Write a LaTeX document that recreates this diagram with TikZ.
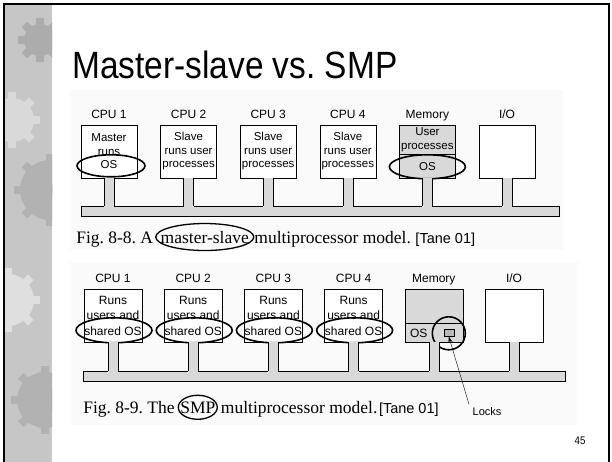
\documentclass[tikz,border=0pt]{standalone}
\usepackage{fontspec}
\setmainfont{Liberation Serif}
\setsansfont{Liberation Sans}
\newfontfamily\titlefont[FakeStretch=0.88]{Liberation Sans}
\usetikzlibrary{positioning,arrows.meta}
\frenchspacing

\tikzstyle{cpu} = [rectangle, draw, fill=white, minimum width=56pt, minimum height=53pt, inner sep=0pt, align=center, font=\sffamily\fontsize{11.5}{13.5}\selectfont]
\tikzstyle{mem} = [cpu, fill=gray!30]
\tikzstyle{tag} = [font=\sffamily\fontsize{12}{14}\selectfont, inner sep=2pt, text height=9pt, text depth=2.5pt]
\tikzstyle{ring} = [draw, line width=1.6pt]
\tikzstyle{stub} = [fill=gray!30]
\tikzstyle{figcap} = [font=\fontsize{17.5}{20}\selectfont, inner sep=0pt]
\tikzstyle{tane} = [font=\sffamily\fontsize{14.5}{17}\selectfont, inner sep=0pt]

\begin{document}
\begin{tikzpicture}[x=1pt, y=-1pt, line width=0.6pt]
	\useasboundingbox (0,0) rectangle (612,462);
	% slide frame and gear band
	\fill[white] (0,0) rectangle (612,462);
	\begin{scope}
		\clip (5,5) rectangle (52,462);
		\fill[gray!45] (5,5) rectangle (52,462);
		\foreach \cx/\cy/\r/\c in {40/40/16/gray!65, 12/120/22/gray!30, 50/190/30/gray!60, 8/300/26/gray!25, 45/400/28/gray!60} {
			\fill[\c] (\cx,\cy) circle (\r);
			\foreach \a in {0,45,...,135}
				\fill[\c, rotate around={\a:(\cx,\cy)}] (\cx-4,\cy-\r-6) rectangle (\cx+4,\cy+\r+6);
		}
	\end{scope}
	\draw[line width=2pt] (4,462) -- (4,4) -- (609,4) -- (609,462);
	\node[font=\titlefont\fontsize{38}{40}\selectfont, anchor=base west, inner sep=0pt] (title) at (72,79) {Master-slave vs. SMP};

	% master-slave model
	\fill[gray!4] (70,90) rectangle (563,250);
	\node[cpu] (m1) at (109,151.5) {Master\\runs\\OS};
	\node[cpu, right=23pt of m1] (s2) {Slave\\runs user\\processes};
	\node[cpu, right=23pt of s2] (s3) {Slave\\runs user\\processes};
	\node[cpu, right=23pt of s3] (s4) {Slave\\runs user\\processes};
	\node[mem, right=23pt of s4] (mm) {};
	\node[cpu, right=23pt of mm] (io) {};
	\node[tag, above=1pt of m1] (lm1) {CPU 1};
	\node[tag, above=1pt of s2] (ls2) {CPU 2};
	\node[tag, above=1pt of s3] (ls3) {CPU 3};
	\node[tag, above=1pt of s4] (ls4) {CPU 4};
	\node[tag, above=1pt of mm] (lmm) {Memory};
	\node[tag, above=1pt of io] (lio) {I/O};
	\draw ([yshift=-30pt]mm.north west) -- ([yshift=-30pt]mm.north east);
	\node[align=center, font=\sffamily\fontsize{11.5}{13.5}\selectfont] (mu) at ([yshift=-15pt]mm.north) {User\\processes};
	\node[font=\sffamily\fontsize{11.5}{13.5}\selectfont] (mo) at ([yshift=11.5pt]mm.south) {OS};
	\draw[ring] (mo) ellipse [x radius=38pt, y radius=12pt];
	\draw[ring] ([xshift=2pt,yshift=12.5pt]m1.south) ellipse [x radius=34pt, y radius=11pt];
	\filldraw[stub, draw=black] (81,206) rectangle (559,216);
	\foreach \n in {m1,s2,s3,s4,mm,io} {
		\fill[stub] ([xshift=-5pt]\n.south) rectangle ([xshift=5pt,yshift=-28.6pt]\n.south);
		\draw ([xshift=-5pt]\n.south) -- ++(0,28) ([xshift=5pt]\n.south) -- ++(0,28);
	}
	\node[figcap, anchor=base west] (f8) at (76,243) {Fig. 8-8. A};
	\node[figcap, base right=7pt of f8] (ms) {master-slave};
	\draw[ring, line width=1.3pt] (ms) ellipse [x radius=49pt, y radius=13.5pt];
	\node[figcap, base right=5pt of ms] (mp8) {multiprocessor model.};
	\node[tane, base right=4pt of mp8] (t8) {[Tane 01]};

	% SMP model
	\fill[gray!4] (70,262) rectangle (578,425);
	\node[cpu, minimum width=58pt, font=\sffamily\fontsize{12}{15.5}\selectfont] (r1) at (113,315.5) {Runs\\users and\\shared OS};
	\node[cpu, minimum width=58pt, font=\sffamily\fontsize{12}{15.5}\selectfont, right=21.6pt of r1] (r2) {Runs\\users and\\shared OS};
	\node[cpu, minimum width=58pt, font=\sffamily\fontsize{12}{15.5}\selectfont, right=21.6pt of r2] (r3) {Runs\\users and\\shared OS};
	\node[cpu, minimum width=58pt, font=\sffamily\fontsize{12}{15.5}\selectfont, right=21.6pt of r3] (r4) {Runs\\users and\\shared OS};
	\node[mem, minimum width=58pt, right=21.6pt of r4] (sm) {};
	\node[cpu, minimum width=58pt, right=21.6pt of sm] (sio) {};
	\node[tag, above=1pt of r1] (lr1) {CPU 1};
	\node[tag, above=1pt of r2] (lr2) {CPU 2};
	\node[tag, above=1pt of r3] (lr3) {CPU 3};
	\node[tag, above=1pt of r4] (lr4) {CPU 4};
	\node[tag, above=1pt of sm] (lsm) {Memory};
	\node[tag, above=1pt of sio] (lsio) {I/O};
	\foreach \n in {r1,r2,r3,r4}
		\draw[ring] ([xshift=1pt,yshift=12pt]\n.south) ellipse [x radius=38pt, y radius=12.5pt];
	\draw ([yshift=-35pt]sm.north west) -- ([yshift=-35pt]sm.north east);
	\node[font=\sffamily\fontsize{12}{14}\selectfont] (so) at ([xshift=-15pt,yshift=9pt]sm.south) {OS};
	\node[draw, fill=gray!55, minimum width=10pt, minimum height=7pt, inner sep=0pt] (lk) at ([xshift=15pt,yshift=9.5pt]sm.south) {};
	\draw[ring] ([yshift=-0.5pt]lk.center) circle (16.5pt);
	\filldraw[stub, draw=black] (83,371) rectangle (565,381);
	\foreach \n in {r1,r2,r3,r4,sm,sio} {
		\fill[stub] ([xshift=-5pt]\n.south) rectangle ([xshift=5pt,yshift=-29.6pt]\n.south);
		\draw ([xshift=-5pt]\n.south) -- ++(0,29) ([xshift=5pt]\n.south) -- ++(0,29);
	}
	\node[figcap, anchor=base west] (f9) at (83,413) {Fig. 8-9. The};
	\node[figcap, base right=5pt of f9] (smp) {SMP};
	\draw[ring, line width=1.3pt] (smp) ellipse [x radius=19.5pt, y radius=12pt];
	\node[figcap, base right=5pt of smp] (mp9) {multiprocessor model.};
	\node[tane, base right=1pt of mp9] (t9) {[Tane 01]};
	\node[font=\sffamily\fontsize{11}{13}\selectfont] (locks) at (487,412) {Locks};
	\draw[-{Stealth[length=6pt,width=4pt]}, line width=0.4pt] (locks.north west) -- (lk.south);

	\node[font=\titlefont\fontsize{11}{13}\selectfont] (page) at (580,441) {45};
\end{tikzpicture}
\end{document}
